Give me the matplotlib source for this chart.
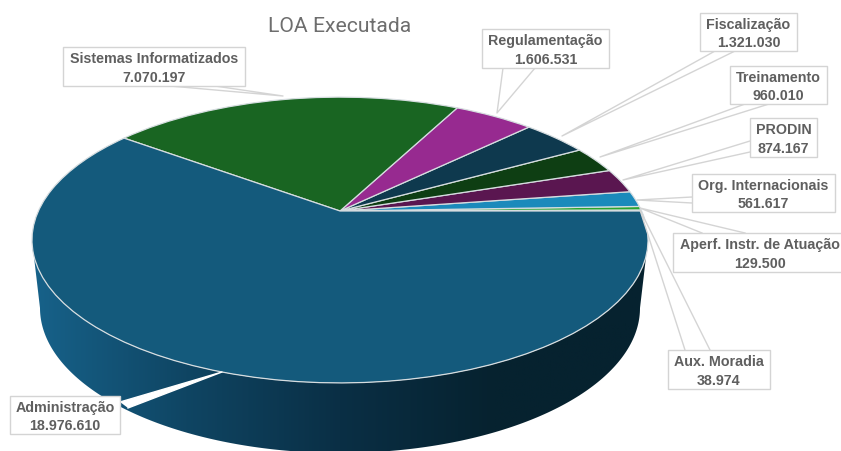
import numpy as np
import matplotlib
matplotlib.use("Agg")
import matplotlib.pyplot as plt
from matplotlib.transforms import Transform
from matplotlib.patches import Polygon
from matplotlib.colors import LinearSegmentedColormap

# --- data -------------------------------------------------------------
categories = ["Aux. Moradia", "Aperf. Instr. de Atuação", "Org. Internacionais",
              "PRODIN", "Treinamento", "Fiscalização", "Regulamentação",
              "Sistemas Informatizados", "Administração"]
values = [38974, 129500, 561617, 874167, 960010, 1321030, 1606531, 7070197, 18976610]
value_labels = ["38.974", "129.500", "561.617", "874.167", "960.010", "1.321.030",
                "1.606.531", "7.070.197", "18.976.610"]
colors = ["#a9c6cf", "#2aa52e", "#1b8abb", "#5a1650", "#0e3e13", "#0e394e",
          "#972a90", "#196522", "#145a7c"]

W, H = 841, 451
fig = plt.figure(figsize=(W / 100, H / 100), dpi=100, facecolor="white")
ax = fig.add_axes([0, 0, 1, 1])


class Tilt(Transform):
    """Perspective view of the unit-circle pie, output in pixel-like data units."""
    input_dims = output_dims = 2
    is_affine = False
    has_inverse = False
    cx, cy, a, b, k = 340.0, 211.0, 301.6, 137.0, 0.203

    def transform_non_affine(self, xy):
        xy = np.asarray(xy, float)
        w = 1 + self.k * xy[:, 1]
        return np.column_stack((self.cx + self.a * xy[:, 0] / w,
                                self.cy - self.b * xy[:, 1] / w))


# --- side wall --------------------------------------------------------
t = np.linspace(0, np.pi, 200)
top_rim = np.column_stack((340 + 308 * np.cos(t), 240 + 143 * np.sin(t)))
bot_rim = np.column_stack((340 + 300 * np.cos(t), 308 + 145 * np.sin(t)))
wall = Polygon(np.vstack((top_rim, bot_rim[::-1])), closed=True, fc="none", ec="none",
               transform=ax.transData)
ax.add_patch(wall)
cmap = LinearSegmentedColormap.from_list("wall", ["#17628a", "#0f4563", "#0a2f45", "#06222f", "#06222f"])
img = ax.imshow(np.linspace(0, 1, 256)[None, :], extent=(32, 648, 451, 200), cmap=cmap,
                aspect="auto", zorder=1)
img.set_clip_path(wall)

# --- top face ---------------------------------------------------------
wedges, _ = ax.pie(values, colors=colors, startangle=0, counterclock=True, radius=1,
                   wedgeprops=dict(edgecolor="#d6dde0", linewidth=0.9, zorder=2))
tilt = Tilt() + ax.transData
for w in wedges:
    w.set_transform(tilt)
    w.set_zorder(2)

ax.set_xlim(0, W)
ax.set_ylim(H, 0)
ax.set_aspect("auto")
ax.axis("off")

# --- title ------------------------------------------------------------
ax.text(340, 26.5, "LOA Executada", ha="center", va="center", fontsize=15.2,
        color="#6e6e6e", family="Roboto", zorder=10)

# --- callouts: box (x0,y0,x1,y1), tip, the two base points on the box ---
callouts = {
    "Sistemas Informatizados": ((63, 47, 245, 86), (283, 96), (170, 86), (215, 86)),
    "Regulamentação": ((482, 29, 609, 68), (497, 113), (503, 68), (535, 68)),
    "Fiscalização": ((700, 13, 797, 51), (562, 136), (715, 51), (735, 51)),
    "Treinamento": ((730, 66, 827, 104), (600, 157), (745, 104), (769, 104)),
    "PRODIN": ((750, 118, 817, 157), (623, 180), (750, 141), (750, 152)),
    "Org. Internacionais": ((692, 174, 835, 212), (637, 200), (692, 197), (692, 203)),
    "Aperf. Instr. de Atuação": ((673, 233, 845, 272), (640, 208), (702, 233), (745, 233)),
    "Aux. Moradia": ((668, 350, 770, 389), (640, 210), (685, 350), (710, 350)),
    "Administração": ((10, 396, 120, 434), (222, 372), (120, 402), (128, 408)),
}
edge = "#d4d4d4"
for name, val in zip(categories, value_labels):
    (x0, y0, x1, y1), tip, p, q = callouts[name]
    ax.fill([p[0], tip[0], q[0]], [p[1], tip[1], q[1]], fc="white", ec="none", zorder=4)
    line = "white" if name == "Administração" else edge
    ax.plot([p[0], tip[0], q[0]], [p[1], tip[1], q[1]], color=line, lw=1.0, zorder=4)
    ax.fill([x0, x1, x1, x0], [y0, y0, y1, y1], fc="white", ec=edge, lw=1.0, zorder=5,
            clip_on=True)
    ax.text((x0 + x1) / 2 if name != "Aperf. Instr. de Atuação" else 760, (y0 + y1) / 2 + 2,
            f"{name}\n{val}", ha="center", va="center", ma="center", fontsize=10.3,
            fontweight="bold", color="#5f5f5f", family="Liberation Sans",
            linespacing=1.38, zorder=6)

fig.savefig("out.png", dpi=100)
